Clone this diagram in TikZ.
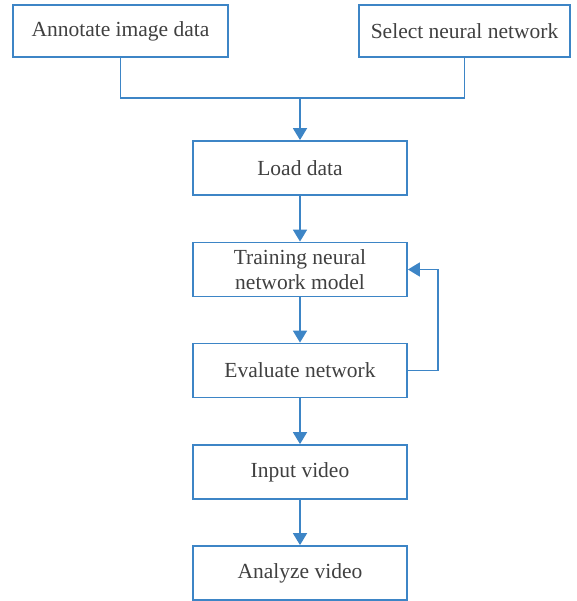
\documentclass[tikz,border=0pt]{standalone}
\usepackage{fontspec}
\setmainfont{Liberation Serif}
\usetikzlibrary{arrows.meta}
\definecolor{flowblue}{HTML}{3D85C6}
\definecolor{txtgray}{HTML}{404040}
\tikzset{
  stepbox/.style={draw=flowblue, line width=1.8pt, fill=white, inner sep=0pt,
    text=txtgray, align=center, font=\fontsize{21.5}{25}\selectfont},
  link/.style={draw=flowblue, line width=1.8pt},
  arr/.style={link, -{Triangle[length=12pt,width=14pt]}}
}
\begin{document}
\begin{tikzpicture}[x=1pt,y=-1pt]
  \useasboundingbox (0,0) rectangle (576,601);
  % input boxes
  \node[stepbox, minimum width=215pt, minimum height=52pt] (ann) at (120.5,31) {Annotate image data};
  \node[stepbox, minimum width=211pt, minimum height=52pt] (sel) at (464.5,31) {Select neural network};
  % main column
  \node[stepbox, minimum width=214pt, minimum height=54pt] (load) at (300,168) {Load data};
  \node[stepbox, minimum width=214pt, minimum height=54pt] (train) at (300,269.5) {Training neural\\network model};
  \node[stepbox, minimum width=214pt, minimum height=54pt] (eval) at (300,370.5) {Evaluate network};
  \node[stepbox, minimum width=214pt, minimum height=54pt] (inp) at (300,472) {Input video};
  \node[stepbox, minimum width=214pt, minimum height=54pt] (ana) at (300,573) {Analyze video};
  % merge of the two inputs
  \coordinate (mid) at (300,98);
  \draw[link] (ann.south) -- (ann.south |- mid) -- (sel.south |- mid) -- (sel.south);
  \draw[arr] (mid) -- (load.north);
  % main flow
  \draw[arr] (load) -- (train);
  \draw[arr] (train) -- (eval);
  \draw[arr] (eval) -- (inp);
  \draw[arr] (inp) -- (ana);
  % feedback loop
  \coordinate (fb) at (438,0);
  \draw[arr] (eval.east) -- (eval.east -| fb) -- (train.east -| fb) -- (train.east);
\end{tikzpicture}
\end{document}
